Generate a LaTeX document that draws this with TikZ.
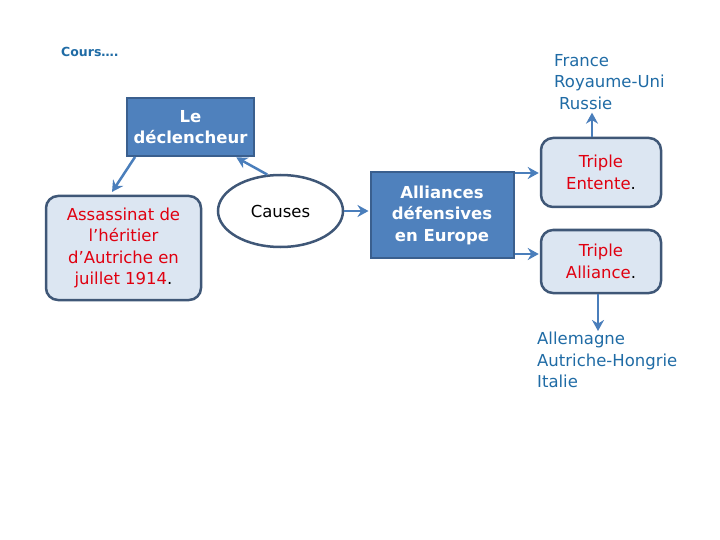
\documentclass[tikz,border=0pt]{standalone}
\usepackage{fontspec}
\setmainfont{DejaVu Sans}
\usepackage{xcolor}
\usetikzlibrary{arrows.meta, positioning, shapes.geometric}
\definecolor{boxblue}{HTML}{4F81BD}
\definecolor{boxedge}{HTML}{3A5F8E}
\definecolor{paleblue}{HTML}{DCE6F2}
\definecolor{edgedark}{HTML}{3F5777}
\definecolor{inkblue}{HTML}{1F6BA5}
\definecolor{inkred}{HTML}{E00010}
\definecolor{arrowblue}{HTML}{4A7EBB}
\newcommand{\txt}{\fontsize{16.5}{21.5}\selectfont}

\begin{document}
\begin{tikzpicture}[x=1pt, y=-1pt, >=Stealth,
  darkbox/.style={draw=boxedge, line width=2pt, fill=boxblue, text=white,
    font=\txt\bfseries, align=center, inner sep=0pt},
  palebox/.style={draw=edgedark, line width=2.5pt, fill=paleblue, text=inkred,
    font=\txt, align=center, inner sep=0pt, rounded corners=12pt},
  listtext/.style={text=inkblue, font=\txt, align=left, inner sep=0pt},
  link/.style={->, draw=arrowblue, line width=2.5pt, shorten >=1pt,
    arrows={-Stealth[length=11pt, width=12pt]}}]
  \useasboundingbox (0,0) rectangle (720,540);

  \node[text=inkblue, font=\fontsize{12.5}{15}\selectfont\bfseries, anchor=west, inner sep=0pt] (cours) at (61,52) {Cours….};

  \node[darkbox, minimum width=127, minimum height=58] (declencheur) at (190.5,127) {Le\\déclencheur};
  \node[palebox, minimum width=155, minimum height=104] (assassinat) at (123.5,248)
    {Assassinat de\\l’héritier\\d’Autriche en\\juillet 1914{\color{black}.}};
  \node[ellipse, draw=edgedark, line width=2.5pt, fill=white, font=\txt,
    minimum width=125, minimum height=72, inner sep=0pt] (causes) at (280.5,211) {Causes};
  \node[darkbox, minimum width=143, minimum height=86] (alliances) at (442,215)
    {Alliances\\défensives\\en Europe};
  \node[palebox, minimum width=120, minimum height=69] (entente) at (601,172.5)
    {Triple\\Entente{\color{black}.}};
  \node[palebox, minimum width=120, minimum height=63] (alliance) at (601,261.5)
    {Triple\\Alliance{\color{black}.}};

  \node[listtext, anchor=north west] (france) at (554,54)
    {France\\Royaume-Uni\\\hspace*{5pt}Russie};
  \node[listtext, anchor=north west] (allemagne) at (537,332)
    {Allemagne\\Autriche-Hongrie\\Italie};

  % fleches
  \draw[link] ([xshift=9]declencheur.south west) -- ([xshift=-12,yshift=2]assassinat.north);
  \draw[link] (causes.110) -- ([xshift=45]declencheur.south);
  \draw[link] (causes.east) -- (causes.east -| alliances.west);
  \draw[link] ([yshift=-2]alliances.north east) -- ([yshift=-2]alliances.north east -| entente.west);
  \draw[link] ([yshift=5]alliances.south east) -- ([yshift=5]alliances.south east -| alliance.west);
  \draw[link] ([xshift=-9]entente.north) -- ([xshift=-9,yshift=-2]entente.north |- france.south);
  \draw[link] ([xshift=-3]alliance.south) -- ([xshift=-3]alliance.south |- allemagne.north);
\end{tikzpicture}
\end{document}
